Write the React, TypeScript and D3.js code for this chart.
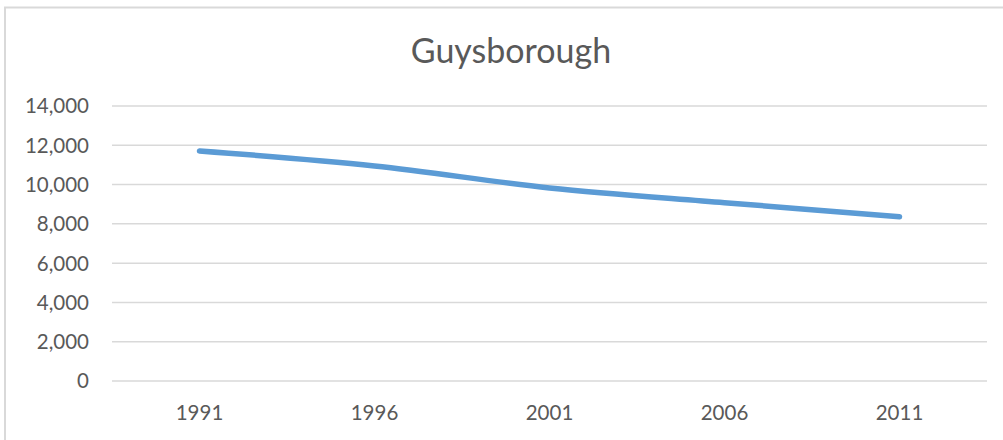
import React from "react";
import * as d3 from "d3";

const categories = ["1991", "1996", "2001", "2006", "2011"];
const population = [11710, 10950, 9830, 9080, 8360];
const yTicks = [0, 2000, 4000, 6000, 8000, 10000, 12000, 14000];
const title = "Guysborough";

const W = 1003;
const H = 440;
const FONT = "Lato, 'Liberation Sans', sans-serif";

export default function App() {
  const plotLeft = 112;
  const plotRight = 987;
  const plotTop = 106;
  const plotBottom = 381;

  const x = d3.scaleBand<string>().domain(categories).range([plotLeft, plotRight]);
  const y = d3.scaleLinear().domain([0, 14000]).range([plotBottom, plotTop]);
  const fmt = d3.format(",");

  const line = d3
    .line<number>()
    .x((_, i) => (x(categories[i]) as number) + x.bandwidth() / 2)
    .y((d) => y(d))
    .curve(d3.curveCatmullRom.alpha(0.5));

  return (
    <svg
      width={W}
      height={H}
      style={{ position: "absolute", left: 0, top: 0, background: "#fff" }}
    >
      <rect x={5} y={7.5} width={1100} height={500} fill="#fff" stroke="#d9d9d9" strokeWidth={2} />
      <text
        x={511}
        y={63}
        textAnchor="middle"
        fontFamily={FONT}
        fontSize={34}
        fill="#595959"
      >
        {title}
      </text>
      {yTicks.map((t) => (
        <g key={t}>
          <line
            x1={plotLeft}
            x2={plotRight}
            y1={y(t)}
            y2={y(t)}
            stroke="#d9d9d9"
            strokeWidth={1.5}
          />
          <text
            x={89}
            y={y(t)}
            dy="0.36em"
            textAnchor="end"
            fontFamily={FONT}
            fontSize={20.5}
            fill="#595959"
          >
            {fmt(t)}
          </text>
        </g>
      ))}
      {categories.map((c) => (
        <text
          key={c}
          x={(x(c) as number) + x.bandwidth() / 2}
          y={420}
          textAnchor="middle"
          fontFamily={FONT}
          fontSize={20.5}
          fill="#595959"
        >
          {c}
        </text>
      ))}
      <path
        d={line(population) || ""}
        fill="none"
        stroke="#5b9bd5"
        strokeWidth={5.5}
        strokeLinecap="round"
        strokeLinejoin="round"
      />
    </svg>
  );
}
